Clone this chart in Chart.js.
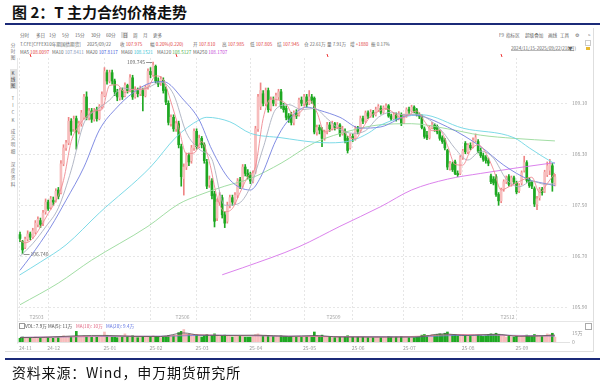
<!DOCTYPE html>
<html><head><meta charset="utf-8">
<title>T主力合约价格走势</title>
<script src="https://cdn.jsdelivr.net/npm/chart.js@4/dist/chart.umd.min.js"></script>
<style>
html,body{margin:0;padding:0;background:#fff;}
body{width:606px;height:383px;overflow:hidden;position:relative;font-family:"Noto Sans CJK SC","Noto Sans",sans-serif;}
.a{position:absolute;white-space:nowrap;}
.t{position:absolute;white-space:nowrap;font-size:10px;line-height:10px;transform:scale(0.46);transform-origin:0 50%;color:#666;}
.r{color:#e23b3b}
.v{position:absolute;font-size:10px;transform:scale(0.46);transform-origin:50% 0;color:#777;text-align:center;width:12px;}
canvas{position:absolute;}
</style></head>
<body>
<div class="a" style="left:12px;top:2px;font-size:15px;line-height:20px;font-weight:bold;color:#111;">图 2：T 主力合约价格走势</div>
<div class="a" style="left:5px;top:23px;width:595px;height:2px;background:#1b2a78;"></div>

<div class="t" style="left:20px;top:30px">分时</div>
<div class="t" style="left:36px;top:30px">多日</div>
<div class="t" style="left:49px;top:30px">1分</div>
<div class="t" style="left:62px;top:30px">5分</div>
<div class="t" style="left:75px;top:30px">15分</div>
<div class="t" style="left:91px;top:30px">30分</div>
<div class="t" style="left:106px;top:30px">60分</div>
<div class="a" style="left:121px;top:32px;width:7px;height:6px;background:#dedede;"></div>
<div class="t" style="left:123px;top:30px;color:#333">日</div>
<div class="t" style="left:133px;top:30px">周</div>
<div class="t" style="left:143px;top:30px">月</div>
<div class="t" style="left:153px;top:30px">更多</div>

<div class="t" style="left:20px;top:39px">T.CFE[CFFEX10年期国债期货]</div>
<div class="t" style="left:87px;top:39px">2025/09/22</div>
<div class="t" style="left:120px;top:39px">收 <span class="r">107.975</span></div>
<div class="t" style="left:150px;top:39px">幅 <span class="r">0.20%(0.220)</span></div>
<div class="t" style="left:193px;top:39px">开 <span class="r">107.810</span></div>
<div class="t" style="left:222px;top:39px">高 <span class="r">107.985</span></div>
<div class="t" style="left:250px;top:39px">低 <span class="r">107.805</span></div>
<div class="t" style="left:277px;top:39px">结 <span class="r">107.945</span></div>
<div class="t" style="left:304px;top:39px">仓 22.61万</div>
<div class="t" style="left:327px;top:39px">量 7.91万</div>
<div class="t" style="left:350px;top:39px">增 <span class="r">+1880</span></div>
<div class="t" style="left:371px;top:39px">振 0.17%</div>

<div class="t" style="left:20px;top:47px">MA5 <span style="color:#e23b3b">108.0097</span></div>
<div class="t" style="left:52px;top:47px">MA10 <span style="color:#7f93b8">107.8411</span></div>
<div class="t" style="left:86px;top:47px">MA20 <span style="color:#3d56d6">107.8117</span></div>
<div class="t" style="left:121px;top:47px">MA60 <span style="color:#2fc1d3">108.1521</span></div>
<div class="t" style="left:157px;top:47px">MA120 <span style="color:#4caf50">108.5127</span></div>
<div class="t" style="left:193px;top:47px">MA250 <span style="color:#c443d6">108.1707</span></div>

<div class="t" style="left:499px;top:30px">F9</div>
<div class="t" style="left:506px;top:30px">指标区</div>
<div class="t" style="left:525px;top:30px">超级叠加</div>
<div class="t" style="left:548px;top:30px">画线</div>
<div class="t" style="left:560px;top:30px">工具</div>
<div class="t" style="left:575px;top:30px">⚙</div>
<div class="t" style="left:588px;top:30px">&gt;</div>
<div class="t" style="left:511px;top:43px;text-decoration:underline">2024/11/15-2025/09/22(210日)</div>
<div class="t" style="left:568px;top:43px">▼</div>
<div class="a" style="left:585px;top:40px;width:4px;height:4px;border:1px solid #ccc;"></div>
<div class="a" style="left:586px;top:47px;width:4px;height:3px;background:#e8b830;"></div>

<div class="v" style="left:7px;top:42px;line-height:13px">分<br>时<br>图</div>
<div class="a" style="left:10px;top:69px;width:7px;height:20px;background:#e4e4e4;"></div>
<div class="v" style="left:7px;top:70px;line-height:13px;color:#444">K<br>线<br>图</div>
<div class="v" style="left:7px;top:94px;line-height:16px">T<br>I<br>C<br>K</div>
<div class="v" style="left:7px;top:127px;line-height:15px">成<br>交<br>明<br>细</div>
<div class="v" style="left:7px;top:160px;line-height:15px">深<br>度<br>资<br>料</div>

<div class="a" style="left:17px;top:58px;width:1px;height:286px;background:#e8e8e8;"></div>
<div class="a" style="left:17px;top:321px;width:576px;height:1px;background:#e6e6e6;"></div>
<div class="a" style="left:5px;top:351px;width:588px;height:1px;background:#dedede;"></div>
<div class="a" style="left:593px;top:28px;width:1px;height:324px;background:#dedede;"></div>

<canvas id="pc" width="577" height="275" style="left:17px;top:52px;"></canvas>
<canvas id="vc" width="577" height="32" style="left:17px;top:321px;"></canvas>

<div class="a" style="left:19px;top:323px;width:4px;height:4px;border:1px solid #999;"></div>
<div class="t" style="left:25px;top:321px;color:#444">VOL: 7.9万</div>
<div class="t" style="left:48px;top:321px;color:#444">MA(5): 11万</div>
<div class="t" style="left:76px;top:321px;color:#e0607e">MA(10): 10万</div>
<div class="t" style="left:106px;top:321px;color:#5a6fe0">MA(20): 9.4万</div>
<div class="a" style="left:585px;top:323px;width:5px;height:5px;border:1px solid #aaa;"></div>

<div class="a" style="left:5px;top:358px;width:595px;height:2px;background:#1b2a78;"></div>
<div class="a" style="left:12px;top:362px;font-size:14px;line-height:20px;letter-spacing:0.8px;color:#111;">资料来源：Wind，申万期货研究所</div>

<script>
// ---------- data ----------
const open = [
107.04,106.93,106.84,106.97,107.05,107.00,107.08,107.20,107.26,107.22,
107.40,107.55,107.47,107.58,107.58,107.74,107.70,108.15,108.40,108.48,
108.82,108.70,108.86,108.66,108.78,108.88,109.20,108.88,108.98,108.85,
109.00,108.86,109.05,109.22,109.58,109.45,109.58,109.45,109.28,109.18,
109.30,109.22,109.38,109.30,109.50,109.20,109.30,109.25,109.30,109.22,
109.35,109.60,109.55,109.68,109.45,109.42,109.46,109.32,109.10,108.78,
108.88,108.70,108.78,108.42,107.92,108.10,108.28,108.20,108.40,108.66,
108.42,108.55,108.45,108.18,107.82,107.88,107.68,107.30,107.55,107.62,
107.35,107.25,107.50,107.62,107.55,107.66,107.90,107.80,108.10,108.00,
107.98,107.88,108.02,108.70,109.05,109.25,109.10,109.30,109.02,109.15,
109.10,109.20,109.28,109.05,109.02,108.90,108.92,108.80,108.95,108.92,
109.15,109.10,109.20,109.10,109.20,109.18,108.65,108.72,108.68,108.55,
108.65,108.76,108.70,108.78,108.72,108.76,108.62,108.66,108.55,108.40,
108.58,108.55,108.70,108.68,108.86,108.82,108.95,108.90,108.96,108.92,
109.00,109.02,108.96,109.03,109.06,108.90,108.86,108.92,108.86,108.92,
108.80,108.90,109.00,108.98,109.04,109.00,108.92,108.90,108.70,108.60,
108.56,108.72,108.76,108.74,108.65,108.56,108.52,108.36,108.08,108.15,
108.18,108.00,108.00,108.25,108.47,108.34,108.44,108.42,108.52,108.50,
108.36,108.28,108.25,108.20,107.96,107.91,107.95,107.67,107.57,107.75,
107.87,107.95,107.83,107.93,107.85,107.73,107.85,108.05,108.17,107.90,
107.86,107.76,107.52,107.62,107.75,107.72,107.98,108.05,108.12,107.81];
const high = [
107.08,106.95,107.00,107.10,107.08,107.14,107.26,107.32,107.30,107.42,
107.60,107.58,107.64,107.63,107.76,107.78,108.20,108.45,108.52,108.88,
108.86,108.90,108.90,108.82,108.99,109.24,109.28,109.02,109.02,109.02,
109.04,109.08,109.28,109.66,109.62,109.62,109.62,109.48,109.32,109.34,
109.34,109.42,109.40,109.55,109.54,109.36,109.34,109.37,109.34,109.38,
109.64,109.66,109.745,109.70,109.50,109.52,109.50,109.36,109.14,108.92,
108.92,108.82,108.82,108.46,108.15,108.32,108.32,108.44,108.70,108.70,
108.60,108.58,108.48,108.22,107.96,107.92,107.72,107.60,107.70,107.66,
107.40,107.55,107.66,107.66,107.70,107.92,107.94,108.14,108.14,108.06,
108.02,108.04,108.74,109.24,109.42,109.30,109.34,109.34,109.20,109.20,
109.26,109.32,109.32,109.10,109.06,108.94,108.96,108.98,109.00,109.18,
109.20,109.24,109.24,109.30,109.24,109.20,108.76,108.76,108.72,108.68,
108.80,108.80,108.82,108.80,108.80,108.78,108.74,108.70,108.58,108.62,
108.62,108.74,108.74,108.90,108.90,108.98,108.98,109.00,108.99,109.04,
109.08,109.06,109.06,109.09,109.08,108.93,108.95,108.95,108.97,108.95,
108.93,109.03,109.04,109.07,109.06,109.02,108.95,108.92,108.73,108.66,
108.75,108.80,108.78,108.76,108.68,108.59,108.55,108.38,108.19,108.18,
108.21,108.04,108.28,108.38,108.50,108.47,108.48,108.56,108.62,108.53,
108.40,108.32,108.28,108.24,107.99,107.95,107.98,107.70,107.77,107.90,
107.96,107.98,107.96,107.96,107.88,107.84,108.04,108.27,108.20,107.93,
107.88,107.79,107.64,107.78,107.78,108.05,108.18,108.22,108.16,107.985];
const low = [
106.93,106.74,106.82,106.94,106.96,106.98,107.05,107.16,107.15,107.18,
107.36,107.42,107.44,107.50,107.55,107.60,107.68,108.12,108.36,108.45,
108.60,108.66,108.38,108.62,108.74,108.85,108.84,108.84,108.80,108.82,
108.82,108.84,109.02,109.20,109.40,109.42,109.40,109.22,109.14,109.15,
109.16,109.20,109.26,109.28,109.16,109.18,109.20,109.22,108.98,109.20,
109.32,109.50,109.52,109.42,109.36,109.38,109.26,109.08,108.76,108.74,
108.66,108.66,108.40,107.80,107.66,108.06,108.12,108.16,108.36,108.38,
108.40,108.40,108.16,107.76,107.78,107.60,107.16,107.26,107.50,107.30,
107.15,107.22,107.46,107.50,107.52,107.62,107.76,107.78,107.96,107.92,
107.84,107.85,108.00,108.66,109.00,109.06,109.06,108.96,108.98,109.06,
109.06,109.16,109.02,108.96,108.84,108.80,108.76,108.76,108.86,108.90,
109.06,109.06,109.04,109.08,109.10,108.62,108.60,108.62,108.42,108.52,
108.62,108.66,108.68,108.68,108.70,108.58,108.60,108.48,108.32,108.38,
108.50,108.52,108.62,108.66,108.78,108.80,108.86,108.88,108.88,108.90,
108.97,108.93,108.94,109.00,108.88,108.83,108.84,108.82,108.84,108.75,
108.78,108.88,108.94,108.96,108.95,108.90,108.86,108.70,108.55,108.53,
108.54,108.70,108.66,108.62,108.52,108.47,108.37,108.06,108.05,108.03,
107.98,107.95,107.98,108.22,108.31,108.31,108.37,108.40,108.49,108.32,
108.25,108.19,108.16,108.12,107.84,107.82,107.64,107.50,107.54,107.72,
107.84,107.80,107.80,107.84,107.68,107.70,107.82,108.02,107.86,107.78,
107.76,107.48,107.43,107.58,107.66,107.70,107.95,107.98,107.72,107.805];
const close = [
106.98,106.80,106.97,107.05,107.00,107.10,107.22,107.28,107.20,107.38,
107.55,107.45,107.60,107.55,107.72,107.64,108.15,108.40,108.48,108.82,
108.66,108.85,108.65,108.78,108.95,109.20,108.88,108.98,108.85,108.98,
108.86,109.05,109.24,109.60,109.45,109.58,109.45,109.28,109.20,109.30,
109.20,109.38,109.30,109.50,109.20,109.32,109.25,109.33,109.22,109.35,
109.60,109.55,109.70,109.45,109.40,109.48,109.30,109.12,108.80,108.88,
108.70,108.78,108.45,107.95,108.10,108.28,108.18,108.40,108.66,108.42,
108.55,108.45,108.20,107.80,107.90,107.65,107.25,107.55,107.65,107.35,
107.22,107.50,107.62,107.55,107.66,107.88,107.80,108.10,108.00,107.95,
107.88,108.00,108.70,109.20,109.30,109.10,109.30,109.00,109.15,109.10,
109.22,109.28,109.05,109.00,108.88,108.85,108.80,108.95,108.90,109.15,
109.10,109.20,109.08,109.20,109.15,108.65,108.72,108.68,108.55,108.65,
108.76,108.70,108.78,108.72,108.76,108.62,108.70,108.52,108.36,108.58,
108.55,108.70,108.66,108.86,108.82,108.95,108.90,108.96,108.92,109.00,
109.05,108.96,109.03,109.06,108.90,108.86,108.92,108.85,108.94,108.78,
108.90,109.00,108.98,109.04,108.98,108.92,108.90,108.72,108.58,108.56,
108.72,108.76,108.70,108.65,108.55,108.50,108.40,108.10,108.15,108.06,
108.00,107.98,108.25,108.35,108.34,108.44,108.40,108.52,108.56,108.35,
108.28,108.22,108.20,108.16,107.87,107.85,107.67,107.57,107.75,107.87,
107.93,107.83,107.93,107.87,107.71,107.81,108.01,108.17,107.89,107.81,
107.80,107.52,107.60,107.75,107.70,108.02,108.12,108.15,107.86,107.945];
// volume, in 万手
const volume = [
6,8,7,7,6,7,8,7,6,7, 8,7,7,6,8,7,9,10,8,9, 8,9,17,9,8,10,9,8,8,7,
8,8,9,16,10,9,8,8,7,8, 8,13,9,8,10,8,7,8,9,8, 9,8,10,9,8,7,8,9,10,9,
10,9,15,17,20,13,12,11,10,11, 9,8,10,12,9,10,13,10,9,10, 11,10,9,8,9,10,9,10,8,8,
8,9,12,13,11,10,11,10,9,9, 9,8,10,9,9,8,9,8,8,9, 8,8,9,8,9,16,10,9,11,9,
8,8,7,7,8,8,7,8,10,8, 8,7,8,9,8,8,7,8,7,8, 8,7,8,7,9,8,7,8,7,9,
8,8,7,8,7,8,8,11,12,10, 10,12,11,12,13,12,14,16,12,11, 12,10,11,12,10,10,9,10,10,11,
10,9,10,12,13,12,14,12,11,10, 8,9,8,8,9,8,9,10,11,9, 9,12,11,10,9,10,13,12,14,7.9];

// moving-average lines: [bar index, value]
const ma5 = [[0,106.95],[2,106.91],[5,106.98],[8,107.16],[11,107.37],[14,107.57],[17,107.89],[20,108.50],[23,108.75],[26,108.89],[29,108.98],[32,109.00],[35,109.38],[38,109.39],[41,109.27],[44,109.32],[47,109.32],[50,109.35],[53,109.53],[56,109.47],[59,109.12],[62,108.72],[65,108.31],[68,108.32],[71,108.50],[74,108.18],[77,107.63],[80,107.40],[83,107.45],[86,107.70],[89,107.95],[92,108.11],[95,108.86],[98,109.17],[101,109.15],[104,109.09],[107,108.90],[110,108.98],[113,109.15],[116,108.96],[119,108.65],[122,108.69],[125,108.72],[128,108.59],[131,108.54],[134,108.72],[137,108.90],[140,108.97],[143,109.02],[146,108.95],[149,108.87],[152,108.92],[155,108.98],[158,108.82],[161,108.67],[164,108.68],[167,108.44],[170,108.14],[173,108.13],[176,108.36],[179,108.45],[182,108.32],[185,108.06],[188,107.74],[191,107.79],[194,107.85],[197,107.91],[200,107.94],[203,107.70],[206,107.84],[209,108.01]];
const ma10 = [[0,106.70],[5,106.90],[10,107.16],[15,107.46],[20,108.05],[25,108.79],[30,109.00],[35,109.15],[40,109.34],[45,109.31],[50,109.35],[55,109.43],[60,109.24],[65,108.64],[70,108.38],[75,108.22],[80,107.50],[85,107.52],[90,107.79],[95,108.40],[100,109.01],[105,109.08],[110,109.00],[115,109.02],[120,108.86],[125,108.69],[130,108.63],[135,108.67],[140,108.88],[145,108.96],[150,108.92],[155,108.93],[160,108.84],[165,108.66],[170,108.39],[175,108.21],[180,108.35],[185,108.24],[190,107.91],[195,107.79],[200,107.88],[205,107.83],[209,107.84]];
const ma20 = [[0,106.48],[4,106.69],[12,107.16],[18,107.58],[25,108.10],[31,108.68],[38,109.04],[44,109.26],[51,109.42],[56,109.44],[64,109.15],[70,108.84],[75,108.37],[82,107.90],[90,107.74],[94,107.94],[100,108.52],[104,108.79],[112,109.04],[117,108.99],[125,108.88],[133,108.71],[141,108.73],[153,108.92],[167,108.73],[180,108.42],[189,108.13],[199,107.90],[204,107.85],[209,107.81]];
const ma60 = [[0,106.41],[8,106.61],[18,106.88],[31,107.38],[51,108.10],[61,108.57],[70,108.84],[73,108.88],[82,108.81],[90,108.63],[102,108.56],[115,108.49],[121,108.48],[130,108.52],[136,108.63],[141,108.76],[157,108.92],[173,108.71],[193,108.56],[199,108.40],[204,108.27],[209,108.15]];
const ma120 = [[0,105.94],[15,106.28],[28,106.64],[50,107.17],[62,107.52],[70,107.66],[80,107.80],[90,107.92],[102,108.16],[115,108.48],[130,108.68],[140,108.76],[153,108.78],[167,108.70],[180,108.60],[193,108.55],[209,108.51]];
const ma250 = [[79,106.41],[87,106.52],[109,106.85],[125,107.17],[141,107.48],[153,107.74],[167,107.91],[180,108.00],[193,108.08],[209,108.17]];
const vma5 = [[0,7],[10,7.5],[22,10],[34,10.5],[45,9],[55,8.8],[64,14.5],[70,11],[78,10.5],[93,11],[105,9],[115,10.5],[125,8],[140,8],[155,8],[165,13],[175,10.5],[186,12.5],[195,9],[209,11]];
const vma10 = [[0,7.3],[20,8.5],[35,9.5],[55,9],[68,12],[80,10.5],[95,10],[110,9],[125,8.5],[145,8],[160,10],[170,12],[185,11.5],[200,9.5],[209,10]];
const vma20 = [[0,7.4],[30,8.8],[60,9.5],[75,11],[100,9.5],[130,8.6],[155,8.3],[170,10.5],[190,10.8],[209,9.4]];

const monthIdx = [0,11,33,51,69,90,111,130,150,173,194];
const monthLabels = ['24-11','24-12','25-01','25-02','25-03','25-04','25-05','25-06','25-07','25-08','25-09'];
const priceTicks = [105.90,106.70,107.50,108.30,109.10];
const volTicks = [0,15];
const contractIdx = [4,61,120,188];
const contractLabels = ['T2503','T2506','T2509','T2512'];
const hiIdx = 52, hiLabel = '109.745';
const loIdx = 1, loLabel = '106.740';

// ---------- drawing ----------
const FONT = '"Noto Sans CJK SC","Noto Sans",sans-serif';
const UP_BODY = '#f7bdbd', UP_LINE = '#ef8585', DN = '#1ea822';
const n = close.length;
const bars = Array.from({length:n}, (_, i) => i);
const isUp = i => close[i] >= open[i];
const pts = arr => arr.map(p => ({x:p[0], y:p[1]}));
const lineDs = (label, arr, color, w) => ({type:'line', label, data:pts(arr), borderColor:color, borderWidth:w||0.9,
  pointRadius:0, tension:0.4, cubicInterpolationMode:'monotone', fill:false, order:0});

const pricePlugin = {
  id:'priceNotes',
  afterDraw(c){
    const {ctx, chartArea:a, scales:{x, y}} = c;
    ctx.save();
    ctx.font = '5px ' + FONT;
    ctx.textBaseline = 'middle';
    contractIdx.forEach((ci, k) => {
      const px = Math.round(x.getPixelForValue(ci)) + 0.5;
      ctx.strokeStyle = '#e33'; ctx.lineWidth = 1;
      ctx.beginPath(); ctx.moveTo(px - 0.5, a.top - 4); ctx.lineTo(px + 0.5, a.top - 1); ctx.stroke();
      ctx.fillStyle = '#a8a8a8'; ctx.textAlign = 'left';
      ctx.fillText(contractLabels[k], px - 1, a.bottom - 4);
    });
    ctx.strokeStyle = '#777'; ctx.lineWidth = 0.8;
    const hx = x.getPixelForValue(hiIdx), hy = Math.round(y.getPixelForValue(high[hiIdx])) + 0.5;
    ctx.beginPath(); ctx.moveTo(hx - 7, hy); ctx.lineTo(hx - 1, hy); ctx.stroke();
    ctx.fillStyle = '#666'; ctx.textAlign = 'right'; ctx.fillText(hiLabel, hx - 8, hy);
    const lx = x.getPixelForValue(loIdx), ly = Math.round(y.getPixelForValue(low[loIdx])) + 0.5;
    ctx.beginPath(); ctx.moveTo(lx + 1, ly); ctx.lineTo(lx + 7, ly); ctx.stroke();
    ctx.textAlign = 'left'; ctx.fillText(loLabel, lx + 8, ly);
    ctx.restore();
  }
};

new Chart(document.getElementById('pc'), {
  type:'bar',
  data:{datasets:[
    lineDs('MA5', ma5, '#ef8a92'),
    lineDs('MA10', ma10, '#aab0c0'),
    lineDs('MA20', ma20, '#7480e0'),
    lineDs('MA60', ma60, '#6fd6e4'),
    lineDs('MA120', ma120, '#97d99a'),
    lineDs('MA250', ma250, '#d774ea'),
    {label:'body', data:bars.map(i => ({x:i, y:[open[i], close[i]]})),
      backgroundColor:bars.map(i => isUp(i) ? UP_BODY : DN), barThickness:2, minBarLength:1, grouped:false, order:1},
    {label:'wick', data:bars.map(i => ({x:i, y:[low[i], high[i]]})),
      backgroundColor:bars.map(i => isUp(i) ? UP_LINE : DN), barThickness:1, grouped:false, order:2}
  ]},
  options:{
    responsive:false, animation:false, devicePixelRatio:1, events:[],
    layout:{padding:{top:6, bottom:6, left:0, right:0}},
    plugins:{legend:{display:false}, tooltip:{enabled:false}},
    scales:{
      x:{type:'linear', min:-1.17, max:214.5, offset:false,
        grid:{color:'#e6e6e6', lineWidth:1, drawTicks:false, offset:false},
        border:{display:false, dash:[2,2]}, ticks:{display:false},
        afterBuildTicks:s => { s.ticks = monthIdx.map(v => ({value:v})); }},
      y:{position:'right', min:105.685, max:109.8106,
        grid:{color:'#e6e6e6', lineWidth:1, drawTicks:false},
        border:{display:false, dash:[2,2]},
        ticks:{color:'#9a9a9a', font:{size:5, family:FONT}, padding:3, callback:v => Number(v).toFixed(2)},
        afterBuildTicks:s => { s.ticks = priceTicks.map(v => ({value:v})); },
        afterFit:s => { s.width = 25; }}
    }
  },
  plugins:[pricePlugin]
});

const volPlugin = {
  id:'volNotes',
  afterDraw(c){
    const {ctx, chartArea:a, scales:{x}} = c;
    ctx.save();
    ctx.font = '5px ' + FONT; ctx.fillStyle = '#9a9a9a';
    ctx.textAlign = 'left'; ctx.textBaseline = 'middle';
    monthIdx.forEach((m, k) => ctx.fillText(monthLabels[k], x.getPixelForValue(m) - 1, a.bottom + 6));
    ctx.restore();
  }
};

new Chart(document.getElementById('vc'), {
  type:'bar',
  data:{datasets:[
    lineDs('VMA5', vma5, '#555555', 0.8),
    lineDs('VMA10', vma10, '#e8789a', 0.8),
    lineDs('VMA20', vma20, '#6b7fe0', 0.8),
    {label:'vol', data:bars.map(i => ({x:i, y:volume[i]})),
      backgroundColor:bars.map(i => isUp(i) ? UP_BODY : DN), barThickness:2, grouped:false, order:1}
  ]},
  options:{
    responsive:false, animation:false, devicePixelRatio:1, events:[],
    layout:{padding:{top:6, bottom:11, left:0, right:0}},
    plugins:{legend:{display:false}, tooltip:{enabled:false}},
    scales:{
      x:{type:'linear', min:-1.17, max:214.5, offset:false,
        grid:{display:false, drawTicks:false}, border:{display:true, color:'#e2e2e2'}, ticks:{display:false}},
      y:{position:'right', min:0, max:24,
        grid:{display:false, drawTicks:false}, border:{display:false},
        ticks:{color:'#9a9a9a', font:{size:5, family:FONT}, padding:3, callback:v => v === 15 ? '15万' : String(v)},
        afterBuildTicks:s => { s.ticks = volTicks.map(v => ({value:v})); },
        afterFit:s => { s.width = 25; }}
    }
  },
  plugins:[volPlugin]
});
</script>
</body></html>
